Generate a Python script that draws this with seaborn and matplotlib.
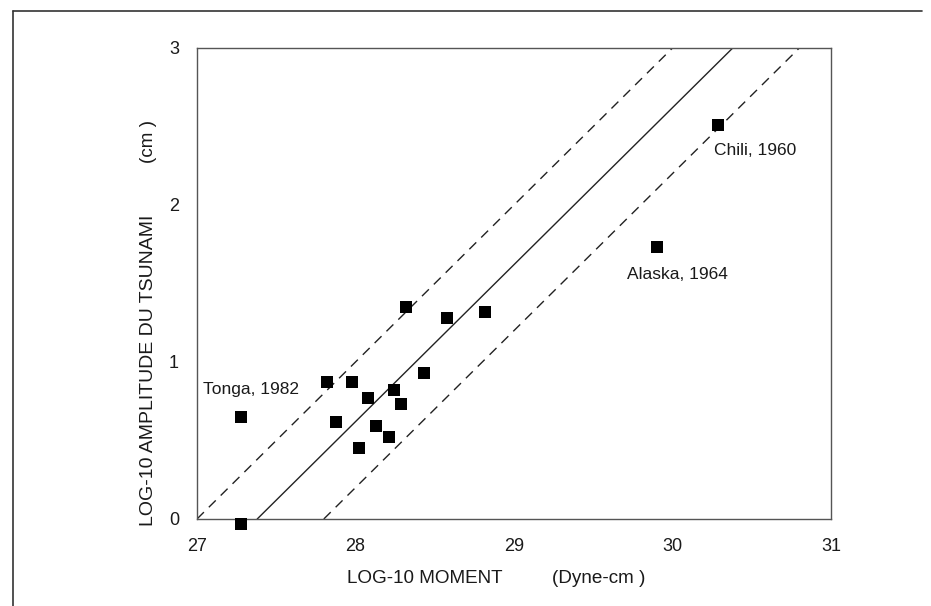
import numpy as np
import pandas as pd
import matplotlib
matplotlib.use("Agg")
import matplotlib.pyplot as plt
import seaborn as sns
from matplotlib.lines import Line2D

# --- data ---
log_moment = [27.28, 27.28, 27.82, 27.98, 27.88, 28.08, 28.02, 28.13, 28.21,
              28.24, 28.29, 28.43, 28.32, 28.58, 28.82, 29.90, 30.29]
log_amp = [0.65, -0.03, 0.87, 0.87, 0.62, 0.77, 0.45, 0.59, 0.52,
           0.82, 0.73, 0.93, 1.35, 1.28, 1.32, 1.73, 2.51]

# lines log A = log M - offset (solid = mean, dashed = bounds)
line_offsets = [27.0, 27.38, 27.8]
line_styles = ["dashed", "solid", "dashed"]

event_names = ["Tonga, 1982", "Alaska, 1964", "Chili, 1960"]
event_x = [27.28, 29.90, 30.29]
event_y = [0.65, 1.73, 2.51]

x_ticks = [27, 28, 29, 30, 31]
y_ticks = [0, 1, 2, 3]

df = pd.DataFrame({"moment": log_moment, "amp": log_amp})

sns.set_theme(style="white")
plt.rcParams["font.family"] = ["Liberation Sans", "DejaVu Sans"]

fig = plt.figure(figsize=(9.31, 6.06), dpi=100)
ax = fig.add_axes([0.2116, 0.1436, 0.681, 0.7772])

for off, ls in zip(line_offsets, line_styles):
    xs = np.array([off, off + 3.0])
    ys = xs - off
    sns.lineplot(x=xs, y=ys, ax=ax, color="#222222", linewidth=1.0)
    line = ax.lines[-1]
    if ls == "dashed":
        line.set_dashes([7, 5])

sns.scatterplot(data=df, x="moment", y="amp", ax=ax, marker="s", s=80,
                color="black", edgecolor="black", linewidth=0, clip_on=False,
                zorder=5)

# event labels
offsets_px = {"Tonga, 1982": (-38, 27), "Alaska, 1964": (-30, -27), "Chili, 1960": (-4, -26)}
for name, x, y in zip(event_names, event_x, event_y):
    dx, dy = offsets_px[name]
    ax.annotate(name, (x, y), xytext=(dx, dy), textcoords="offset pixels",
                ha="left", va="center", fontsize=12.5, color="#1a1a1a")

ax.set_xlim(27, 31)
ax.set_ylim(0, 3)
ax.set_xticks(x_ticks)
ax.set_yticks(y_ticks)
ax.tick_params(length=0, labelsize=13, colors="#1a1a1a")
ax.tick_params(axis="x", pad=14)
ax.tick_params(axis="y", pad=13)
ax.set_xlabel("")
ax.set_ylabel("")
for sp in ax.spines.values():
    sp.set_color("#555555")
    sp.set_linewidth(1.0)

# axis titles placed like the original (two parts each)
fig.text(0.373, 0.046, "LOG-10 MOMENT", ha="left", va="center", fontsize=13.6, color="#1a1a1a")
fig.text(0.593, 0.046, "(Dyne-cm )", ha="left", va="center", fontsize=13.6, color="#1a1a1a")
fig.text(0.159, 0.389, "LOG-10 AMPLITUDE DU TSUNAMI", rotation=90, ha="center",
         va="center", fontsize=14, color="#1a1a1a")
fig.text(0.159, 0.766, "(cm )", rotation=90, ha="center", va="center",
         fontsize=13.6, color="#1a1a1a")

# outer frame (left and top edges of the scanned box)
fig.add_artist(Line2D([0.014, 0.014], [0.0, 0.982], transform=fig.transFigure,
                      color="#333333", linewidth=1.2))
fig.add_artist(Line2D([0.014, 0.99], [0.982, 0.982], transform=fig.transFigure,
                      color="#333333", linewidth=1.2))

fig.savefig("out.png", dpi=100)
